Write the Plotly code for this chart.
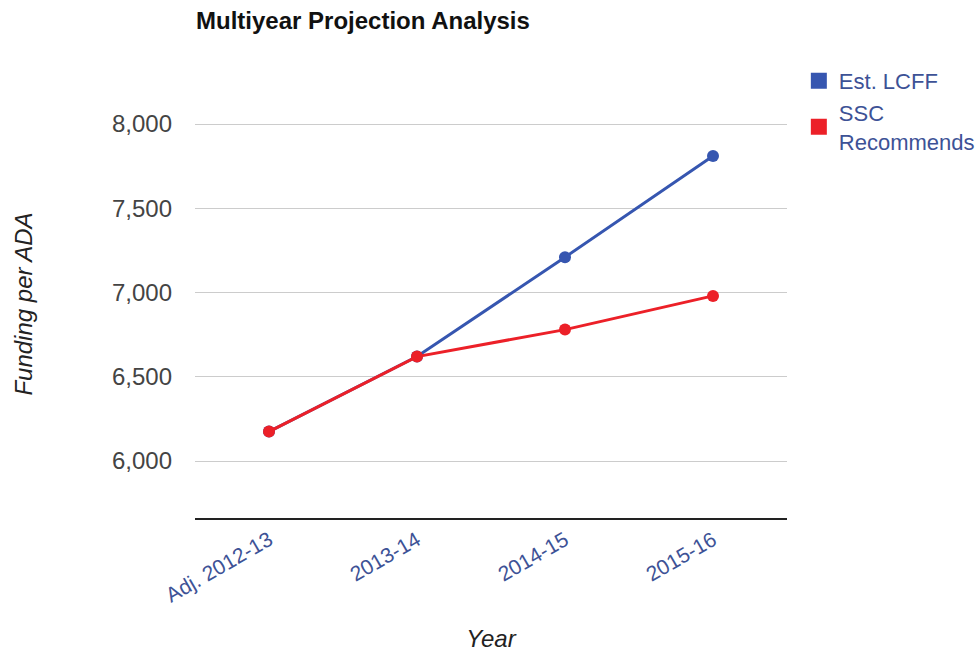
import plotly.graph_objects as go

# Multiyear funding projection per ADA
years = ["Adj. 2012-13", "2013-14", "2014-15", "2015-16"]
est_lcff = [6175, 6620, 7210, 7810]
ssc_recommends = [6175, 6620, 6780, 6980]
y_ticks = [6000, 6500, 7000, 7500, 8000]

BLUE = "#3656b0"
RED = "#ec2028"
LABEL_BLUE = "#3d5296"

fig = go.Figure()

fig.add_trace(go.Scatter(
    x=years, y=est_lcff, mode="lines+markers", name="Est. LCFF",
    line=dict(color=BLUE, width=3), marker=dict(color=BLUE, size=12),
    showlegend=False,
))
fig.add_trace(go.Scatter(
    x=years, y=ssc_recommends, mode="lines+markers", name="SSC<br>Recommends",
    line=dict(color=RED, width=3), marker=dict(color=RED, size=12),
    showlegend=False,
))

# Square legend swatches
for name, color in [("Est. LCFF", BLUE), ("SSC<br>Recommends", RED)]:
    fig.add_trace(go.Scatter(
        x=[None], y=[None], mode="markers", name=name,
        marker=dict(color=color, symbol="square", size=21),
    ))

fig.update_layout(
    width=977, height=652,
    margin=dict(l=195, r=190, t=90, b=134, autoexpand=False),
    paper_bgcolor="white", plot_bgcolor="white",
    font=dict(family="Liberation Sans, Arial, sans-serif", color="#444444"),
    title=dict(
        text="<b>Multiyear Projection Analysis</b>",
        x=196 / 977, xanchor="left", y=1 - 21 / 652, yanchor="middle",
        font=dict(size=24, color="#111111"),
    ),
    legend=dict(
        x=1.02, xanchor="left", y=1.07, yanchor="top",
        font=dict(size=22, color=LABEL_BLUE),
        itemsizing="trace", tracegroupgap=6,
        bgcolor="rgba(0,0,0,0)",
    ),
    xaxis=dict(
        type="category", range=[-0.5, 3.5],
        showgrid=False, showline=True, linecolor="#222222", linewidth=1.5,
        ticks="", tickangle=-30,
        tickfont=dict(size=21, color=LABEL_BLUE),
        title=dict(text="<i>Year</i>", font=dict(size=24, color="#222222"), standoff=26),
    ),
    yaxis=dict(
        range=[5662, 8202], tickvals=y_ticks, tickformat=",",
        showgrid=True, gridcolor="#cccccc", gridwidth=1.2,
        zeroline=False, showline=False, ticks="",
        ticklabelstandoff=22,
        tickfont=dict(size=24, color="#444444"),
        title=dict(text="<i>Funding per ADA</i>", font=dict(size=24, color="#222222"), standoff=72),
    ),
)

fig.write_html("out.html")
